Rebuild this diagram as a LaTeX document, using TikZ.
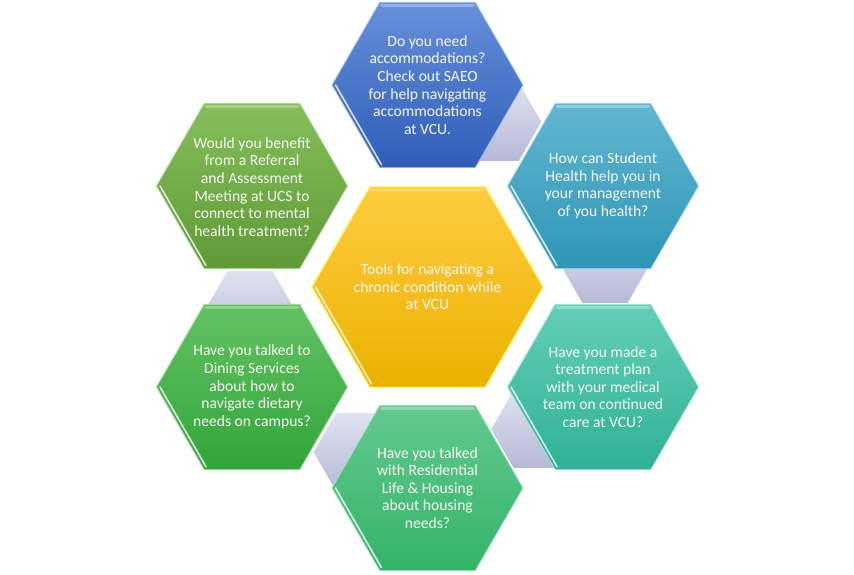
\documentclass[tikz,border=0pt]{standalone}
\usepackage{fontspec}
\setmainfont{Carlito}
\definecolor{textwhite}{HTML}{F8F8F2}
\definecolor{lavtop}{HTML}{DFE2F1}
\definecolor{lavbot}{HTML}{B5B9D6}
\definecolor{bluetop}{HTML}{6790DA}
\definecolor{bluebot}{HTML}{2F5DB9}
\definecolor{oltop}{HTML}{86BF5C}
\definecolor{olbot}{HTML}{5E9A37}
\definecolor{tealtop}{HTML}{62B6D1}
\definecolor{tealbot}{HTML}{2E96B6}
\definecolor{goldtop}{HTML}{FFCC40}
\definecolor{goldbot}{HTML}{EBB100}
\definecolor{grtop}{HTML}{62C262}
\definecolor{grbot}{HTML}{33A53A}
\definecolor{aqtop}{HTML}{64CEB7}
\definecolor{aqbot}{HTML}{2FB197}
\definecolor{mgtop}{HTML}{64C98F}
\definecolor{mgbot}{HTML}{33B36A}
\newcommand\hexshape[4]{\path[#4, shift={(#1,#2)}] (0:#3) -- (60:#3) -- (120:#3) -- (180:#3) -- (240:#3) -- (300:#3) -- cycle;}
\newcommand\hexbevel[3]{%
  \draw[white, opacity=0.8, line width=1.6pt, line cap=round, shift={(#1,#2)}] (180:#3) -- (120:#3);
  \draw[white, opacity=0.3, line width=2.5pt, line cap=round, shift={(#1,#2)}] (240:#3) -- (300:#3);}
\begin{document}
\begin{tikzpicture}[x=1pt,y=-1pt]
\tikzset{
  hexlabel/.style={align=center, text=textwhite, font=\fontsize{15.6}{17.6}\selectfont, inner sep=0pt},
  linkhex/.style={top color=lavtop, bottom color=lavbot},
}
\useasboundingbox (0,0) rectangle (854,574);
% connector hexagons
\hexshape{496.3}{121.8}{45}{linkhex}
\hexshape{605}{264}{45}{linkhex}
\hexshape{536.2}{429.2}{45}{linkhex}
\hexshape{358.7}{452.2}{45}{linkhex}
\hexshape{250}{310}{45}{linkhex}
% outer hexagons
\hexshape{427.5}{85}{95.5}{top color=bluetop, bottom color=bluebot, draw=bluetop!60!white, line width=0.8pt}
\hexbevel{427.5}{85}{92}
\hexshape{252}{186}{95.5}{top color=oltop, bottom color=olbot, draw=oltop!60!white, line width=0.8pt}
\hexbevel{252}{186}{92}
\hexshape{603}{186}{95.5}{top color=tealtop, bottom color=tealbot, draw=tealtop!55!white, line width=0.8pt}
\hexbevel{603}{186}{92}
\hexshape{252}{387}{95.5}{top color=grtop, bottom color=grbot, draw=grtop!55!white, line width=0.8pt}
\hexbevel{252}{387}{92}
\hexshape{603}{387}{95.5}{top color=aqtop, bottom color=aqbot, draw=aqtop!55!white, line width=0.8pt}
\hexbevel{603}{387}{92}
\hexshape{427.5}{488}{95.5}{top color=mgtop, bottom color=mgbot, draw=mgtop!55!white, line width=0.8pt}
\hexbevel{427.5}{488}{92}
% centre hexagon
\hexshape{427.5}{287}{115.5}{top color=goldtop, bottom color=goldbot, draw=yellow!70!white, line width=1pt}
\hexbevel{427.5}{287}{112}
% labels
\node[hexlabel] (center) at (427.5,287) {Tools for navigating a\\chronic condition while\\at VCU};
\node[hexlabel] (qtop) at (427.5,85) {Do you need\\accommodations?\\Check out SAEO\\for help navigating\\accommodations\\at VCU.};
\node[hexlabel] (qul) at (252,187) {Would you benefit\\from a Referral\\and Assessment\\Meeting at UCS to\\connect to mental\\health treatment?};
\node[hexlabel] (qur) at (603,186) {How can Student\\Health help you in\\your management\\of you health?};
\node[hexlabel] (qll) at (252,387) {Have you talked to\\Dining Services\\about how to\\navigate dietary\\needs on campus?};
\node[hexlabel] (qlr) at (603,387) {Have you made a\\treatment plan\\with your medical\\team on continued\\care at VCU?};
\node[hexlabel] (qbot) at (427.5,488) {Have you talked\\with Residential\\Life \& Housing\\about housing\\needs?};
\end{tikzpicture}
\end{document}
